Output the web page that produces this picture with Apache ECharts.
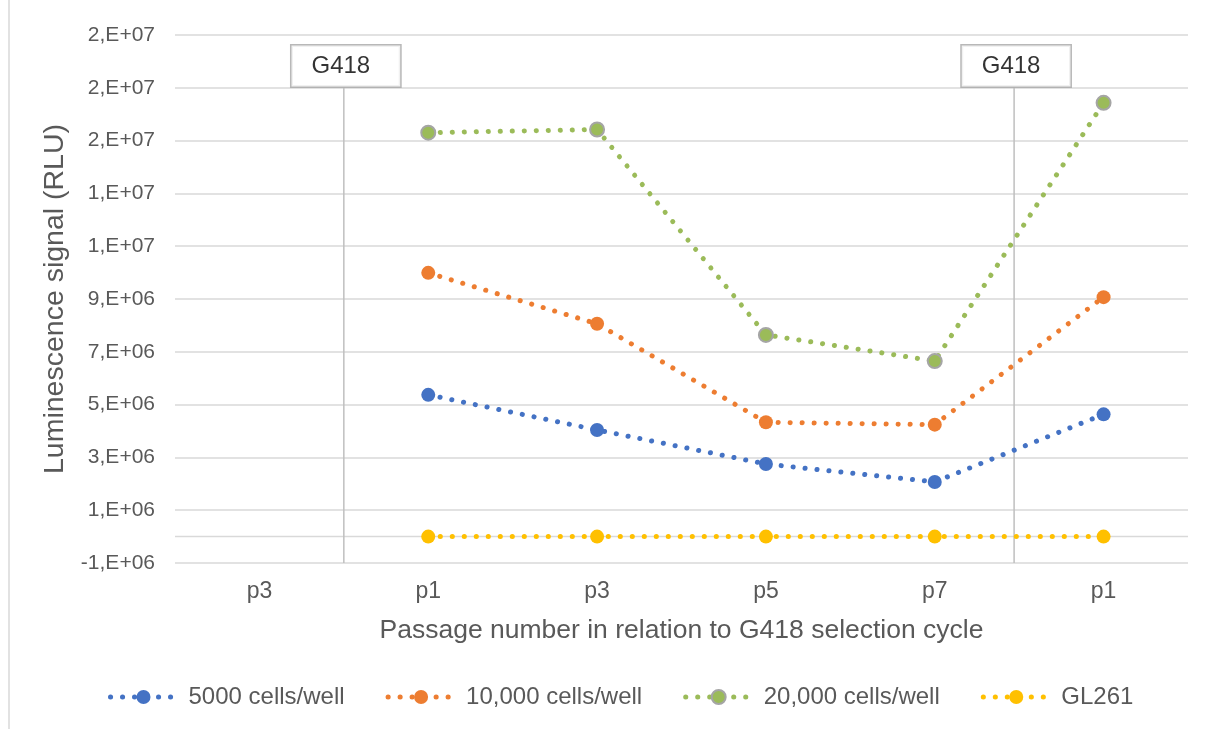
<!DOCTYPE html>
<html>
<head>
<meta charset="utf-8">
<title>Luminescence signal across G418 selection cycle</title>
<script src="https://cdn.jsdelivr.net/npm/echarts@6/dist/echarts.min.js"></script>
<style>
  html, body { margin: 0; padding: 0; background: #ffffff; }
  #chart { width: 1212px; height: 729px; }
</style>
</head>
<body>
<div id="chart"></div>
<script>
// Passage categories (first p3 precedes the first G418 selection)
const categories = ['p3', 'p1', 'p3', 'p5', 'p7', 'p1'];

// Luminescence signal (RLU) per seeding density
const cells5000  = [null, 5.37e6, 4.04e6, 2.75e6, 2.07e6, 4.63e6];
const cells10000 = [null, 9.99e6, 8.06e6, 4.33e6, 4.24e6, 9.07e6];
const cells20000 = [null, 15.30e6, 15.42e6, 7.64e6, 6.65e6, 16.43e6];
const gl261      = [null, 0, 0, 0, 0, 0];

const seriesNames = ['5000 cells/well', '10,000 cells/well', '20,000 cells/well', 'GL261'];

// G418 selection events sit between passages (category index units)
const g418Positions = [0.5, 4.47];
const g418Label = 'G418';

// Value axis range and step
const yMin = -1e6, yMax = 19e6, yStep = 2e6;

const FONT = "'Liberation Sans', Arial, sans-serif";
const TEXT = '#595959';
const GRID = '#d9d9d9';

// Excel-style one-digit scientific notation, e.g. "2,E+07"
function sciLabel(v) {
  const m = Number(v).toExponential(0).match(/^(-?\d+)e([+-])(\d+)$/);
  if (!m) return String(v);
  return m[1] + ',E' + m[2] + m[3].padStart(2, '0');
}

function dotted(color, name, values, extraItem) {
  return {
    name: name,
    type: 'line',
    xAxisIndex: 0,
    yAxisIndex: 0,
    data: values,
    symbol: 'circle',
    symbolSize: 14,
    z: 3,
    lineStyle: { color: color, width: 5, type: [0.1, 11.9], cap: 'round' },
    itemStyle: Object.assign({ color: color, borderWidth: 0 }, extraItem || {}),
    emphasis: { disabled: true }
  };
}

const chart = echarts.init(document.getElementById('chart'), null, { renderer: 'canvas' });

const series = [
  // horizontal axis line crossing at zero
  {
    type: 'line', xAxisIndex: 1, yAxisIndex: 0, silent: true, z: 1,
    symbol: 'none', data: [[-0.5, 0], [5.5, 0]],
    lineStyle: { color: GRID, width: 1.5 }
  }
];

g418Positions.forEach(function (x) {
  series.push({
    type: 'line', xAxisIndex: 1, yAxisIndex: 0, silent: true, z: 1,
    symbol: 'none', data: [[x, yMin], [x, 17e6]],
    lineStyle: { color: '#bfbfbf', width: 1.5 }
  });
});

series.push(
  dotted('#4472C4', seriesNames[0], cells5000),
  dotted('#ED7D31', seriesNames[1], cells10000),
  dotted('#9BBB59', seriesNames[2], cells20000, { borderColor: '#A5A5A5', borderWidth: 2 }),
  dotted('#FFC000', seriesNames[3], gl261)
);

// G418 callout boxes
series.push({
  type: 'scatter', xAxisIndex: 1, yAxisIndex: 0, silent: true, z: 10,
  symbolSize: 1,
  itemStyle: { color: 'rgba(0,0,0,0)' },
  data: g418Positions.map(function (x) { return [x, 17.83e6]; }),
  label: {
    show: true,
    position: 'inside',
    offset: [2, 0],
    formatter: g418Label,
    fontFamily: FONT,
    fontSize: 24,
    lineHeight: 24,
    color: '#000000',
    backgroundColor: '#ffffff',
    borderColor: '#a6a6a6',
    borderWidth: 1.5,
    padding: [9, 30, 8, 20]
  }
});

chart.setOption({
  backgroundColor: '#ffffff',
  animation: false,
  textStyle: { fontFamily: FONT },
  graphic: [{
    type: 'line',
    shape: { x1: 9, y1: 0, x2: 9, y2: 729 },
    style: { stroke: GRID, lineWidth: 1.5 },
    silent: true
  }],
  grid: { left: 175, right: 24, top: 35, bottom: 166, containLabel: false },
  legend: {
    data: seriesNames,
    left: 108,
    top: 685,
    padding: 0,
    itemWidth: 66,
    itemHeight: 17.5,
    itemGap: 41,
    selectedMode: false,
    lineStyle: { width: 5 },
    textStyle: { fontFamily: FONT, fontSize: 24, color: TEXT, padding: [0, 0, 0, 7] }
  },
  xAxis: [
    {
      type: 'category',
      data: categories,
      boundaryGap: true,
      axisLine: { show: false, onZero: false },
      axisTick: { show: false },
      splitLine: { show: false },
      axisLabel: { fontFamily: FONT, fontSize: 23, color: TEXT, margin: 17 },
      name: 'Passage number in relation to G418 selection cycle',
      nameLocation: 'middle',
      nameGap: 54.5,
      nameTextStyle: { fontFamily: FONT, fontSize: 26.5, color: TEXT }
    },
    {
      type: 'value',
      min: -0.5,
      max: 5.5,
      show: false
    }
  ],
  yAxis: {
    type: 'value',
    min: yMin,
    max: yMax,
    interval: yStep,
    axisLine: { show: false },
    axisTick: { show: false },
    splitLine: { show: true, lineStyle: { color: GRID, width: 1.5 } },
    axisLabel: { fontFamily: FONT, fontSize: 21, color: TEXT, margin: 20, formatter: sciLabel },
    name: 'Luminescence signal (RLU)',
    nameLocation: 'middle',
    nameRotate: 90,
    nameGap: 102,
    nameTextStyle: { fontFamily: FONT, fontSize: 28.5, color: TEXT }
  },
  series: series
});
</script>
</body>
</html>
